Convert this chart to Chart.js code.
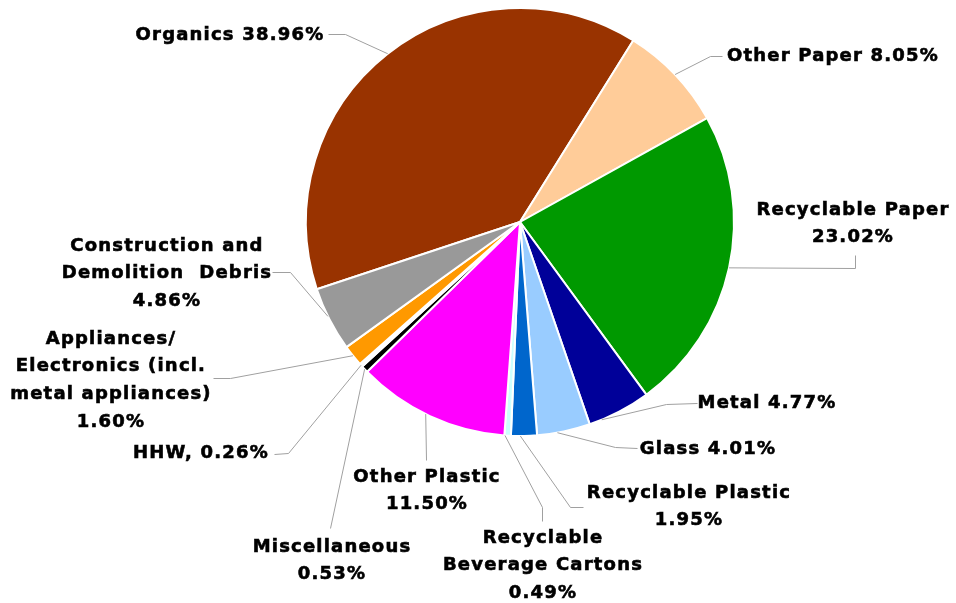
<!DOCTYPE html>
<html>
<head>
<meta charset="utf-8">
<script src="https://cdn.jsdelivr.net/npm/chart.js@4.4.1/dist/chart.umd.min.js"></script>
<style>
    html, body { margin: 0; padding: 0; background: #fff; }
    #wrap { width: 956px; height: 603px; }
</style>
</head>
<body>
<div id="wrap"><canvas id="pie"></canvas></div>
<script>
const categories = ['Organics', 'Other Paper', 'Recyclable Paper', 'Metal', 'Glass', 'Recyclable Plastic',
    'Recyclable Beverage Cartons', 'Other Plastic', 'Miscellaneous', 'HHW',
    'Appliances/Electronics (incl. metal appliances)', 'Construction and Demolition Debris'];
const shares = [38.96, 8.05, 23.02, 4.77, 4.01, 1.95, 0.49, 11.50, 0.53, 0.26, 1.60, 4.86];
const sliceColors = ['#993300', '#ffcc99', '#009900', '#000099', '#99ccff', '#0066cc',
    '#ccffff', '#ff00ff', '#000000', '#ffffff', '#ff9900', '#999999'];

// label text per slice, {p} gets the share
const labelLines = [
    ['Organics {p}'],
    ['Other Paper {p}'],
    ['Recyclable Paper', '{p}'],
    ['Metal {p}'],
    ['Glass {p}'],
    ['Recyclable Plastic', '{p}'],
    ['Recyclable', 'Beverage Cartons', '{p}'],
    ['Other Plastic', '{p}'],
    ['Miscellaneous', '{p}'],
    ['HHW, {p}'],
    ['Appliances/', 'Electronics (incl.', 'metal appliances)', '{p}'],
    ['Construction and', 'Demolition  Debris', '{p}']
];

// where the labels sit and how the leader lines bend (t = point along the slice edge)
const labelLayout = [
    { x: 230, y: 35, t: 0.5, path: [[328, 34], [345, 34]] },
    { x: 833, y: 56, t: 0.5, path: [[722, 56], [710, 56]] },
    { x: 853, y: 210, t: 0.5, path: [[855, 255], [855, 268]] },
    { x: 767, y: 403, t: 0.8, path: [[697, 403], [666, 404]] },
    { x: 708, y: 449, t: 0.62, path: [[637, 448], [615, 447]] },
    { x: 689, y: 493, t: 0.64, path: [[583, 507], [570, 507]] },
    { x: 543, y: 538, t: 0.9, path: [[542, 521], [542, 507]] },
    { x: 427, y: 477, t: 0.53, path: [[426, 460]] },
    { x: 332, y: 547, t: 0.5, path: [[330, 528]] },
    { x: 201, y: 453, t: 0.5, path: [[274, 454], [288, 453]] },
    { x: 111, y: 339, t: 0.5, path: [[213, 378], [230, 378]] },
    { x: 167, y: 246, t: 0.55, path: [[272, 272], [290, 272]] }
];
const lineGap = 27.8;

const calloutPlugin = {
    id: 'callouts',
    afterDatasetsDraw(chart) {
        const ctx = chart.ctx;
        const arcs = chart.getDatasetMeta(0).data;
        ctx.save();

        // leader lines
        ctx.strokeStyle = '#a0a0a0';
        ctx.lineWidth = 1;
        arcs.forEach((arc, i) => {
            const lay = labelLayout[i];
            const p = arc.getProps(['x', 'y', 'startAngle', 'endAngle', 'outerRadius']);
            const a = p.startAngle + (p.endAngle - p.startAngle) * lay.t;
            const ex = p.x + Math.cos(a) * p.outerRadius;
            const ey = p.y + Math.sin(a) * p.outerRadius;
            ctx.beginPath();
            ctx.moveTo(lay.path[0][0] + 0.5, lay.path[0][1] + 0.5);
            lay.path.slice(1).forEach(pt => ctx.lineTo(pt[0] + 0.5, pt[1] + 0.5));
            ctx.lineTo(ex, ey);
            ctx.stroke();
        });

        // label text, a thin stroke makes it a bit heavier like the original
        ctx.font = 'bold 18px "DejaVu Sans"';
        ctx.letterSpacing = '1.2px';
        ctx.fillStyle = '#000';
        ctx.strokeStyle = '#000';
        ctx.lineWidth = 0.6;
        ctx.textAlign = 'center';
        ctx.textBaseline = 'middle';
        labelLines.forEach((lines, i) => {
            const lay = labelLayout[i];
            const pct = shares[i].toFixed(2) + '%';
            lines.forEach((line, k) => {
                const txt = line.replace('{p}', pct);
                ctx.fillText(txt, lay.x, lay.y + k * lineGap);
                ctx.strokeText(txt, lay.x, lay.y + k * lineGap);
            });
        });
        ctx.restore();
    }
};

new Chart(document.getElementById('pie'), {
    type: 'pie',
    data: {
        labels: categories,
        datasets: [{
            data: shares,
            backgroundColor: sliceColors,
            borderColor: '#ffffff',
            borderWidth: 2,
            hoverOffset: 0
        }]
    },
    options: {
        responsive: true,
        maintainAspectRatio: false,
        devicePixelRatio: 1,
        animation: false,
        events: [],
        rotation: -108.3,
        layout: { padding: { left: 305, right: 221, top: 7, bottom: 166 } },
        plugins: {
            legend: { display: false },
            tooltip: { enabled: false }
        }
    },
    plugins: [calloutPlugin]
});
</script>
</body>
</html>
